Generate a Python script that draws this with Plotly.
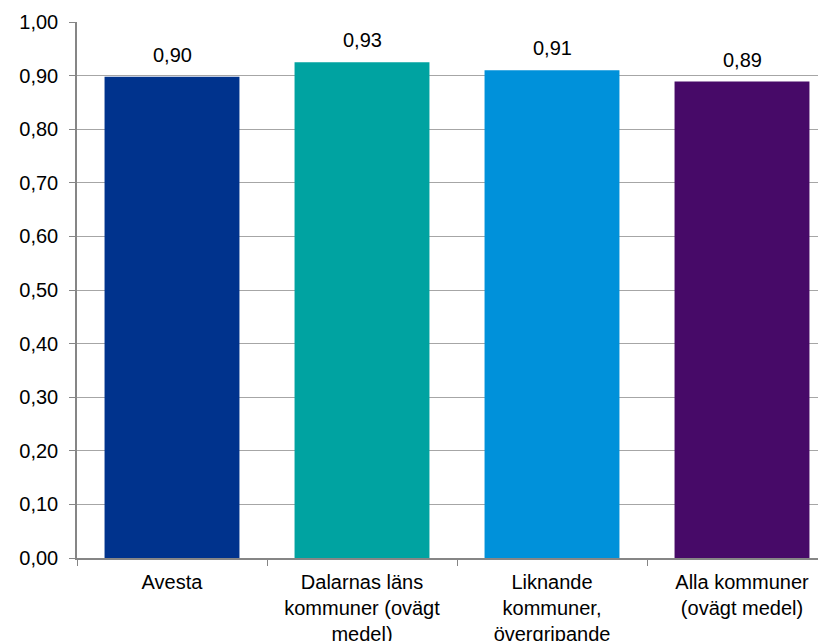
import plotly.graph_objects as go

categories = [
    "Avesta",
    "Dalarnas läns<br>kommuner (ovägt<br>medel)",
    "Liknande<br>kommuner,<br>övergripande",
    "Alla kommuner<br>(ovägt medel)",
]
values = [0.898, 0.925, 0.910, 0.889]
labels = ["0,90", "0,93", "0,91", "0,89"]
colors = ["#00338D", "#00A3A1", "#0091DA", "#470A68"]
y_ticks = [i / 10 for i in range(11)]
y_tick_text = [f"{v:.2f}".replace(".", ",") for v in y_ticks]

font_family = "Arial, 'Liberation Sans', sans-serif"

fig = go.Figure(
    go.Bar(
        x=categories,
        y=values,
        marker=dict(color=colors, line=dict(width=0)),
        width=0.71,
        cliponaxis=False,
    )
)

for c, v, t in zip(categories, values, labels):
    fig.add_annotation(
        x=c, y=v, text=t, showarrow=False,
        yanchor="bottom", xanchor="center", yshift=9,
        font=dict(size=20, color="#000000", family=font_family),
    )

fig.update_layout(
    width=818,
    height=641,
    margin=dict(l=77, r=0, t=22, b=83, pad=0),
    plot_bgcolor="white",
    paper_bgcolor="white",
    showlegend=False,
    font=dict(family=font_family, size=20, color="#000000"),
    xaxis=dict(
        range=[-0.5, 3.4],
        automargin=False,
        showline=True,
        linecolor="#868686",
        linewidth=1.5,
        ticks="outside",
        tickson="boundaries",
        ticklen=6,
        tickcolor="#868686",
        showgrid=False,
        tickfont=dict(size=20),
        ticklabelstandoff=5,
    ),
    yaxis=dict(
        range=[0, 1.0],
        automargin=False,
        tickvals=y_ticks,
        ticktext=y_tick_text,
        showline=True,
        linecolor="#868686",
        linewidth=1.5,
        ticks="outside",
        ticklen=6,
        tickcolor="#868686",
        showgrid=True,
        gridcolor="#A6A6A6",
        gridwidth=1,
        zeroline=False,
        tickfont=dict(size=20),
        ticklabelstandoff=7,
    ),
)

fig.write_html(
    "out.html",
    config={"displayModeBar": False},
    post_script="document.body.style.margin='0';document.body.style.overflow='hidden';",
)
